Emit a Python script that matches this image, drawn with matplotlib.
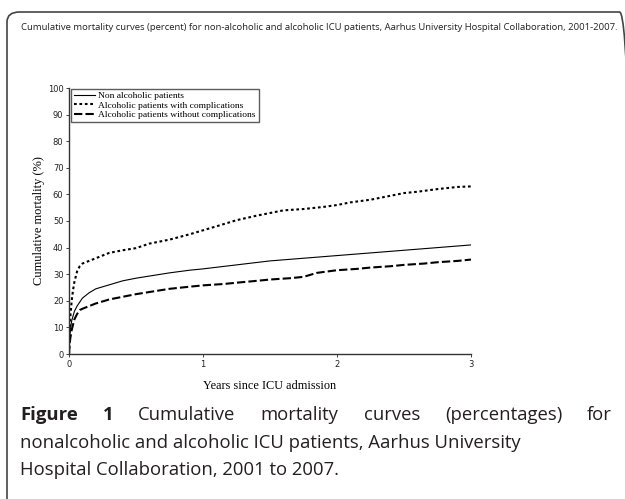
import numpy as np
import matplotlib
matplotlib.use("Agg")
import matplotlib.pyplot as plt
from matplotlib.patches import FancyBboxPatch

# data (years, cumulative mortality %)
t_non = [0, 0.005, 0.01, 0.02, 0.04, 0.06, 0.08, 0.1, 0.15, 0.2, 0.3, 0.4, 0.5, 0.6,
         0.75, 0.9, 1.0, 1.25, 1.5, 1.75, 2.0, 2.25, 2.5, 2.75, 3.0]
v_non = [0, 5, 9, 12.5, 16, 18, 19.5, 21, 23, 24.5, 26, 27.5, 28.5, 29.3,
         30.5, 31.5, 32, 33.5, 35, 36, 37, 38, 39, 40, 41]

t_comp = [0, 0.005, 0.01, 0.02, 0.03, 0.04, 0.06, 0.08, 0.1, 0.15, 0.2, 0.25, 0.3, 0.4,
          0.5, 0.6, 0.75, 0.9, 1.0, 1.1, 1.25, 1.4, 1.5, 1.6, 1.75, 1.9, 2.0, 2.1, 2.25,
          2.4, 2.5, 2.6, 2.75, 2.9, 3.0]
v_comp = [0, 8, 14, 20, 24, 27, 31, 33, 34, 35, 36, 37, 38, 39,
          39.8, 41.5, 43, 45, 46.5, 48, 50.3, 52, 53, 54, 54.5, 55.3, 56, 57, 58,
          59.5, 60.5, 61, 62, 62.8, 63]

t_wo = [0, 0.005, 0.01, 0.02, 0.04, 0.06, 0.08, 0.1, 0.15, 0.2, 0.3, 0.4, 0.5, 0.6,
        0.75, 0.9, 1.0, 1.15, 1.25, 1.4, 1.5, 1.65, 1.75, 1.85, 2.0, 2.15, 2.25, 2.4,
        2.5, 2.65, 2.75, 2.9, 3.0]
v_wo = [0, 4, 6, 9, 13, 15, 16.5, 17, 18, 19, 20.5, 21.5, 22.5, 23.3,
        24.5, 25.3, 25.8, 26.3, 26.8, 27.5, 28, 28.5, 29, 30.5, 31.5, 32, 32.5, 33,
        33.5, 34, 34.5, 35, 35.5]

legend_labels = ["Non alcoholic patients",
                 "Alcoholic patients with complications",
                 "Alcoholic patients without complications"]

W, H = 625, 499
fig = plt.figure(figsize=(W / 100, H / 100), dpi=100)

# rounded frame around the whole panel
frame = FancyBboxPatch((7 / W, -0.05), 1.0, (H - 12) / H + 0.05,
                       boxstyle="round,pad=0,rounding_size=0.02",
                       transform=fig.transFigure, fill=False,
                       edgecolor="#444444", linewidth=1.2, clip_on=False)
fig.patches.append(frame)

fig.text(319 / W, 1 - 27 / H,
         "Cumulative mortality curves (percent) for non-alcoholic and alcoholic ICU patients, Aarhus University Hospital Collaboration, 2001-2007.",
         ha="center", va="center", fontsize=6.8, family="Open Sans", color="#222222")

ax = fig.add_axes([69 / W, 1 - 354 / H, (471 - 69) / W, (354 - 88) / H])
serif = "Liberation Serif"

ax.plot(t_non, v_non, color="black", lw=0.8, label=legend_labels[0])
ax.plot(t_comp, v_comp, color="black", lw=1.5, ls=(0, (1.3, 1.3)),
        label=legend_labels[1])
ax.plot(t_wo, v_wo, color="black", lw=1.5, ls=(0, (4, 1.5)),
        label=legend_labels[2])

ax.set_xlim(0, 3)
ax.set_ylim(0, 100)
ax.set_xticks([0, 1, 2, 3])
ax.set_yticks(range(0, 101, 10))
ax.spines["top"].set_visible(False)
ax.spines["right"].set_visible(False)
for s in ("left", "bottom"):
    ax.spines[s].set_color("#333333")
    ax.spines[s].set_linewidth(1.0)
ax.tick_params(axis="both", length=2, width=0.6, labelsize=6, colors="#222222", pad=2)
for lab in ax.get_xticklabels() + ax.get_yticklabels():
    lab.set_family("DejaVu Sans")

ax.set_ylabel("Cumulative mortality (%)", family=serif, fontsize=9, labelpad=2)
ax.set_xlabel("Years since ICU admission", family=serif, fontsize=8.8, labelpad=8)

leg = ax.legend(loc="upper left", bbox_to_anchor=(0.0, 1.005), prop={"family": serif, "size": 6.8},
                frameon=True, fancybox=False, handlelength=2.2, handletextpad=0.4,
                borderpad=0.3, labelspacing=0.1, borderaxespad=0.2)
leg.get_frame().set_edgecolor("#333333")
leg.get_frame().set_linewidth(1.0)

# caption, first line justified
cap_color = "#231f20"
cap_font = "Open Sans"
cap_size = 13.3
x0, x1 = 20, 612
fig.canvas.draw()
r = fig.canvas.get_renderer()
words = [("Figure", "bold"), ("1", "bold"), ("Cumulative", "medium"), ("mortality", "medium"),
         ("curves", "medium"), ("(percentages)", "medium"), ("for", "medium")]
items = []
for w, wt in words:
    t = fig.text(0, 1 - 415 / H, w, fontsize=cap_size, family=cap_font, weight=wt,
                 color=cap_color, va="center", ha="left")
    items.append(t)
widths = [t.get_window_extent(r).width for t in items]
gap = (x1 - x0 - sum(widths)) / (len(items) - 1)
x = x0
for t, w in zip(items, widths):
    t.set_x(x / W)
    x += w + gap
fig.text(x0 / W, 1 - 443 / H, "nonalcoholic and alcoholic ICU patients, Aarhus University",
         fontsize=cap_size, family=cap_font, weight="medium", color=cap_color, va="center")
fig.text(x0 / W, 1 - 470 / H, "Hospital Collaboration, 2001 to 2007.",
         fontsize=cap_size, family=cap_font, weight="medium", color=cap_color, va="center")

fig.savefig("out.png", dpi=100)
